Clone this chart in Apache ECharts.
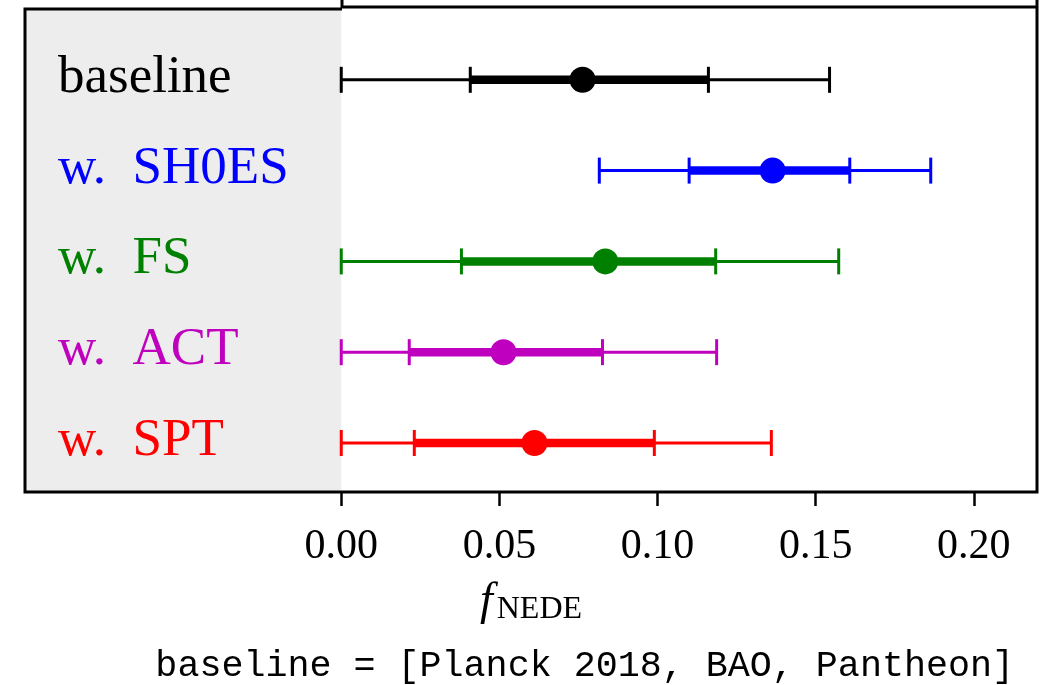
<!DOCTYPE html>
<html>
<head>
<meta charset="utf-8">
<script src="https://cdn.jsdelivr.net/npm/echarts@6/dist/echarts.min.js"></script>
<style>
  html, body { margin: 0; padding: 0; background: #fff; }
  #chart { width: 1048px; height: 685px; }
</style>
</head>
<body>
<div id="chart"></div>
<script>
// rows, top to bottom
var labels = ['baseline', 'w.  SH0ES', 'w.  FS', 'w.  ACT', 'w.  SPT'];
var colors = ['#000000', '#0000ff', '#008000', '#bf00bf', '#ff0000'];
// outer interval (low, high), inner interval (low, high), best fit
var outerLo = [0.000, 0.0816, 0.000, 0.000, 0.000];
var outerHi = [0.1544, 0.1864, 0.1573, 0.1187, 0.136];
var innerLo = [0.0408, 0.110, 0.038, 0.0215, 0.0231];
var innerHi = [0.1161, 0.1608, 0.1184, 0.0826, 0.099];
var best    = [0.0763, 0.1364, 0.0835, 0.0513, 0.0611];
var xTicks  = [0, 0.05, 0.10, 0.15, 0.20];

var rows = [];
for (var i = 0; i < labels.length; i++) {
	rows.push([i, outerLo[i], outerHi[i], innerLo[i], innerHi[i], best[i]]);
}

function renderRow(params, api) {
	var idx = api.value(0);
	var c = colors[idx];
	var y = api.coord([0, idx])[1];
	var xo1 = api.coord([api.value(1), idx])[0];
	var xo2 = api.coord([api.value(2), idx])[0];
	var xi1 = api.coord([api.value(3), idx])[0];
	var xi2 = api.coord([api.value(4), idx])[0];
	var xb = api.coord([api.value(5), idx])[0];
	var capH = 13;
	function cap(x) {
		return { type: 'line', shape: { x1: x, y1: y - capH, x2: x, y2: y + capH },
			style: { stroke: c, lineWidth: 3 } };
	}
	return {
		type: 'group',
		children: [
			{ type: 'line', shape: { x1: xo1, y1: y, x2: xo2, y2: y }, style: { stroke: c, lineWidth: 3 } },
			cap(xo1), cap(xo2),
			{ type: 'line', shape: { x1: xi1, y1: y, x2: xi2, y2: y }, style: { stroke: c, lineWidth: 8.5 } },
			cap(xi1), cap(xi2),
			{ type: 'circle', shape: { cx: xb, cy: y, r: 13 }, style: { fill: c } }
		]
	};
}

function renderLabel(params, api) {
	var idx = api.value(0);
	var p = api.coord([-0.1, idx]);
	return {
		type: 'text',
		x: p[0] + 33,
		y: p[1] - 2,
		style: {
			text: labels[idx],
			fill: colors[idx],
			font: '53px "Liberation Serif", serif',
			verticalAlign: 'middle',
			align: 'left'
		}
	};
}

var chart = echarts.init(document.getElementById('chart'));
chart.setOption({
	animation: false,
	grid: { left: 25, right: 11, top: 9, bottom: 193 },
	xAxis: {
		type: 'value',
		min: -0.1,
		max: 0.22,
		interval: 0.05,
		splitLine: { show: false },
		axisLine: { show: false, onZero: false },
		axisTick: { show: true, customValues: xTicks, length: 14, lineStyle: { color: '#000', width: 2.5 } },
		axisLabel: {
			customValues: xTicks,
			formatter: function (v) { return v.toFixed(2); },
			color: '#000',
			fontFamily: '"Liberation Serif", serif',
			fontSize: 42,
			margin: 34
		},
		name: '{f|f}{s|NEDE}',
		nameLocation: 'middle',
		nameGap: 86,
		nameTextStyle: {
			rich: {
				f: { fontFamily: '"Liberation Serif", serif', fontStyle: 'italic', fontSize: 46, color: '#000' },
				s: { fontFamily: '"Liberation Serif", serif', fontSize: 32, color: '#000', padding: [16, 0, 0, 4] }
			}
		}
	},
	yAxis: {
		type: 'value',
		inverse: true,
		min: -0.78,
		max: 4.54,
		show: false
	},
	series: [
		{
			type: 'custom',
			renderItem: renderRow,
			data: rows,
			encode: { x: [1, 2, 3, 4, 5], y: 0 },
			markArea: {
				silent: true,
				itemStyle: { color: '#ededed' },
				data: [[{ xAxis: -0.1 }, { xAxis: 0 }]]
			},
			z: 3
		},
		{
			type: 'custom',
			renderItem: renderLabel,
			data: rows,
			encode: { x: 1, y: 0 },
			z: 4
		}
	],
	graphic: [
		{ type: 'polyline', z: 100, shape: { points: [[342, 9], [25, 9], [25, 492], [1037, 492], [1037, 0]] },
			style: { fill: 'none', stroke: '#000', lineWidth: 3 } },
		{ type: 'polyline', z: 100, shape: { points: [[342, 0], [342, 7], [1037, 7]] },
			style: { fill: 'none', stroke: '#000', lineWidth: 3 } },
		{ type: 'text', z: 100, x: 1014, y: 666,
			style: { text: 'baseline = [Planck 2018, BAO, Pantheon]', fill: '#000',
				font: '36.7px "Liberation Mono", monospace', align: 'right', verticalAlign: 'middle' } }
	]
});
</script>
</body>
</html>
